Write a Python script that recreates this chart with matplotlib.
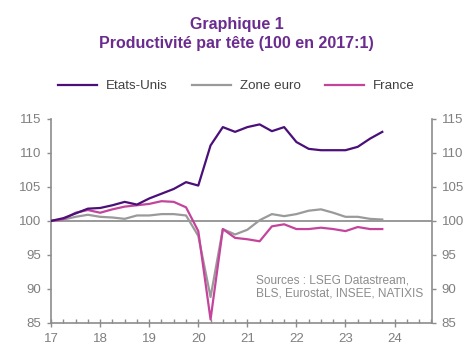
import numpy as np
import matplotlib
matplotlib.use("Agg")
import matplotlib.pyplot as plt
from matplotlib.ticker import MultipleLocator

plt.rcParams['font.family'] = ['Liberation Sans', 'DejaVu Sans']

# quarterly, 2017Q1 .. 2023Q4 (x = 17 + quarter/4)
quarters = np.arange(28)
etats_unis = [100.0, 100.4, 101.1, 101.8, 101.9, 102.3, 102.8, 102.4,
              103.3, 104.0, 104.7, 105.7, 105.2, 111.1, 113.8, 113.1,
              113.8, 114.2, 113.2, 113.8, 111.6, 110.6, 110.4, 110.4,
              110.4, 110.9, 112.1, 113.1]
zone_euro = [100.0, 100.2, 100.6, 100.9, 100.6, 100.5, 100.3, 100.8,
             100.8, 101.0, 101.0, 100.8, 97.8, 88.8, 98.8, 98.0,
             98.7, 100.1, 101.0, 100.7, 101.0, 101.5, 101.7, 101.2,
             100.6, 100.6, 100.3, 100.2]
france = [100.0, 100.25, 101.2, 101.6, 101.2, 101.7, 102.1, 102.3,
          102.5, 102.9, 102.8, 102.0, 98.5, 85.5, 98.8, 97.5,
          97.3, 97.0, 99.2, 99.5, 98.8, 98.8, 99.0, 98.8,
          98.5, 99.1, 98.8, 98.8]
years = np.arange(17, 25)

x = 17 + quarters / 4

fig = plt.figure(figsize=(4.73, 3.54), dpi=100)
ax = fig.add_axes([0.108, 0.088, 0.805, 0.576])

grey = '#8c8c8c'
ax.axhline(100, color='#999999', lw=1.4, zorder=1)
ax.plot(x, zone_euro, color='#9a9a9a', lw=1.6, label='Zone euro', zorder=2)
ax.plot(x, france, color='#c4449c', lw=1.6, label='France', zorder=3)
ax.plot(x, etats_unis, color='#4a0f78', lw=1.6, label='Etats-Unis', zorder=4)

ax.set_xlim(17, 24.76)
ax.set_ylim(85, 115)
ax.set_xticks(years)
ax.set_xticklabels([str(y) for y in years])
ax.xaxis.set_minor_locator(MultipleLocator(0.25))
ax.set_yticks(np.arange(85, 116, 5))

for side in ['left', 'right', 'bottom']:
    ax.spines[side].set_color(grey)
    ax.spines[side].set_linewidth(1.2)
ax.spines['top'].set_visible(False)

ax.tick_params(axis='y', left=True, right=True, labelleft=True, labelright=True,
               direction='out', length=3, width=1, color=grey,
               labelcolor='#7f7f7f', labelsize=9.5, pad=4)
ax.tick_params(axis='x', which='major', direction='inout', length=6, width=1,
               color=grey, labelcolor='#7f7f7f', labelsize=9.5, pad=4)
ax.tick_params(axis='x', which='minor', direction='in', length=3, width=1, color=grey)

ax.text(0.537, 0.176, 'Sources : LSEG Datastream,\nBLS, Eurostat, INSEE, NATIXIS',
        transform=ax.transAxes, fontsize=8.6, color='#8c8c8c', va='center',
        linespacing=1.1)

fig.text(0.5, 0.932, 'Graphique 1', ha='center', va='center', fontsize=11.5,
         fontweight='bold', color='#6b2c8f')
fig.text(0.5, 0.876, 'Productivité par tête (100 en 2017:1)', ha='center',
         va='center', fontsize=11.5, fontweight='bold', color='#6b2c8f')

h, l = ax.get_legend_handles_labels()
order = [2, 0, 1]
fig.legend([h[i] for i in order], [l[i] for i in order], loc='center',
           bbox_to_anchor=(0.5, 0.757), ncol=3, frameon=False, fontsize=9.6,
           handlelength=2.9, handletextpad=0.7, columnspacing=1.8,
           labelcolor='#404040')

fig.savefig('out.png', dpi=100)
